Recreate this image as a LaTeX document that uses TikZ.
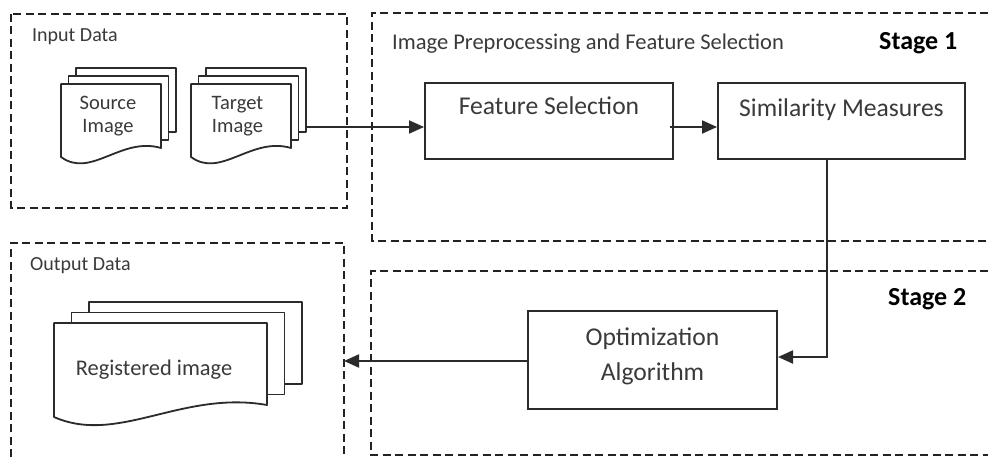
\documentclass[tikz,border=0pt]{standalone}
\usepackage{fontspec}
\setmainfont{Carlito}
\usetikzlibrary{arrows.meta,calc}
\definecolor{linecol}{HTML}{2B2B2B}
\definecolor{txtcol}{HTML}{3A3A3A}
\definecolor{dashcol}{HTML}{222222}
\tikzset{
  region/.style={draw=dashcol, line width=2pt, dash pattern=on 8pt off 4.5pt},
  procbox/.style={draw=linecol, line width=2pt, fill=white, inner sep=0pt},
  docline/.style={draw=linecol, line width=1.8pt, fill=white, line join=round},
  conn/.style={draw=linecol, line width=2pt},
  arr/.style={conn, -{Triangle[length=15pt,width=13pt]}},
  lbl/.style={text=txtcol, font=\fontsize{20}{23}\selectfont, inner sep=0pt, anchor=base west},
  lblwide/.style={text=txtcol, font=\fontsize{22.5}{26}\selectfont, inner sep=0pt, anchor=base west},
  stagelbl/.style={text=black, font=\fontsize{26}{30}\selectfont\bfseries, inner sep=0pt, anchor=base west},
  boxtext/.style={text=txtcol, font=\fontsize{25.6}{35}\selectfont, inner sep=0pt, align=center},
  doctext/.style={text=txtcol, font=\fontsize{20.5}{23}\selectfont, inner sep=0pt, align=center},
  regtext/.style={text=txtcol, font=\fontsize{22.4}{26}\selectfont, inner sep=0pt},
}
% #1 L, #2 T, #3 W, #4 right height, #5 left height, #6 dx, #7 dy
\newcommand{\docstack}[7]{%
  \filldraw[docline] ({#1+2*#6},{#2-2*#7}) rectangle ++(#3,#4);
  \filldraw[docline] ({#1+#6},{#2-#7}) rectangle ++(#3,#4);
  \filldraw[docline] (#1,#2) -- ++(#3,0) -- ++(0,#4)
     .. controls ({#1+0.6*#3},{#2+#4-0.16*#5}) and ({#1+0.3*#3},{#2+1.3*#5}) .. (#1,{#2+#5}) -- cycle;
}
\begin{document}
\begin{tikzpicture}[x=1pt,y=-1pt]
\useasboundingbox (0,0) rectangle (988,457);
\fill[white] (0,0) rectangle (988,457);

% regions
\draw[region] (11,14) rectangle (347,208);
\draw[region] (988,13) -- (372,13) -- (372,241) -- (988,241);
\draw[region] (11,457) -- (11,243) -- (344,243) -- (344,457);
\draw[region] (988,271) -- (371,271) -- (371,455) -- (988,455);

% region labels
\node[lbl] (inlbl) at (32,42) {Input Data};
\node[lbl] (outlbl) at (30,270) {Output Data};
\node[lblwide] (prelbl) at (392,50) {Image Preprocessing and Feature Selection};
\node[stagelbl] (st1) at (879,50) {Stage 1};
\node[stagelbl] (st2) at (888,305) {Stage 2};

% document stacks
\docstack{61}{84}{100}{64}{73}{7.5}{8}
\docstack{191}{84}{100}{64}{73}{7.5}{8}
\docstack{54}{323}{213}{82}{94}{17.5}{10.5}
\node[doctext] (src) at (108,116) {Source\\Image};
\node[doctext] (tgt) at (237.5,116) {Target\\Image};
\node[regtext, anchor=base] (reg) at (154,375) {Registered image};

% process boxes
\node[procbox, minimum width=248pt, minimum height=76pt] (fs) at (549,121) {};
\node[procbox, minimum width=247pt, minimum height=76pt] (sm) at (841.5,121) {};
\node[procbox, minimum width=249pt, minimum height=98pt] (opt) at (652.5,360) {};
\node[boxtext, anchor=base] (fstext) at (549,115) {Feature Selection};
\node[boxtext, anchor=base] (smtext) at (841.5,117) {Similarity Measures};
\node[boxtext] (opttext) at (652.5,356) {Optimization\\Algorithm};

% connectors
\coordinate (tgtout) at (307,127);
\coordinate (outedge) at (344,361);
\draw[arr] (tgtout) -- (tgtout -| fs.west);
\draw[arr] ($(fs.east)+(-4,6)$) -- ($(sm.west)+(0,6)$);
\draw[arr] ($(sm.south)+(-14.5,0)$) |- ($(opt.east)+(0,-3)$);
\draw[arr] ($(opt.west)+(0,1)$) -- (outedge);
\end{tikzpicture}
\end{document}
